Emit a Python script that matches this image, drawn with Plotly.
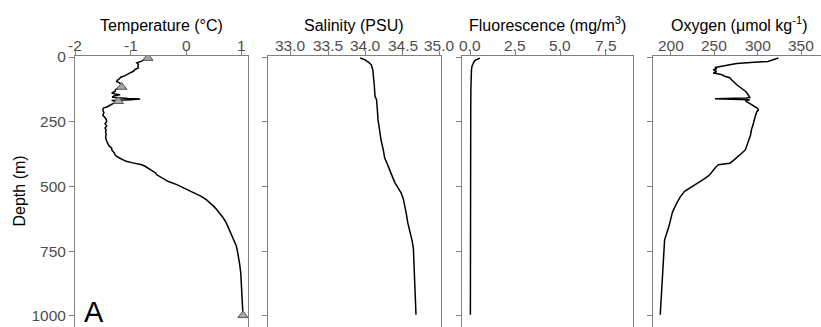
import plotly.graph_objects as go

# ---------------- data ----------------
temp_depth = [4, 10, 16, 22, 28, 35, 42, 48, 55, 62, 68, 72, 78, 84, 90, 95, 100, 107, 113, 120,
              126, 133, 139, 143, 146, 150, 155, 160, 162, 165, 168, 172, 178, 185, 193, 197, 205,
              215, 225, 232, 240, 249, 258, 266, 274, 281, 290, 300, 310, 320, 330, 339, 347, 352,
              358, 365, 372, 378, 384, 390, 396, 403, 408, 412, 416, 422, 430, 440, 448, 455, 464,
              472, 481, 493, 503, 513, 525, 538, 551, 565, 578, 590, 605, 620, 641, 667, 693, 706,
              730, 750, 770, 800, 835, 870, 910, 950, 998]
temp_vals = [-0.72, -0.76, -0.80, -0.89, -0.86, -0.87, -0.86, -0.92, -0.95, -1.02, -1.06, -1.10,
             -1.18, -1.20, -1.24, -1.25, -1.20, -1.16, -1.18, -1.22, -1.27, -1.28, -1.34, -1.28,
             -1.19, -1.30, -1.33, -1.05, -0.83, -1.00, -1.34, -1.25, -1.30, -1.38, -1.43, -1.49,
             -1.50, -1.48, -1.50, -1.47, -1.44, -1.43, -1.46, -1.43, -1.46, -1.44, -1.45, -1.44,
             -1.45, -1.44, -1.42, -1.40, -1.37, -1.34, -1.34, -1.31, -1.29, -1.28, -1.25, -1.20,
             -1.15, -1.08, -0.98, -0.88, -0.80, -0.74, -0.68, -0.62, -0.55, -0.53, -0.46, -0.40,
             -0.32, -0.17, -0.07, 0.05, 0.17, 0.27, 0.36, 0.44, 0.50, 0.55, 0.61, 0.66, 0.72,
             0.77, 0.83, 0.85, 0.90, 0.92, 0.94, 0.96, 0.98, 0.99, 1.00, 1.01, 1.02]

marker_depth = [4, 116, 171, 998]
marker_temp = [-0.69, -1.16, -1.22, 1.02]

sal_depth = [4, 6, 10, 20, 30, 50, 75, 110, 152, 165, 200, 242, 280, 320, 358, 390, 410, 435,
             460, 487, 505, 525, 548, 571, 605, 641, 675, 712, 740, 770, 820, 873, 930, 996]
sal_vals = [33.93, 33.96, 33.99, 34.04, 34.08, 34.10, 34.11, 34.12, 34.13, 34.15, 34.16, 34.17,
            34.19, 34.21, 34.24, 34.26, 34.29, 34.33, 34.36, 34.40, 34.44, 34.48, 34.51, 34.53,
            34.55, 34.57, 34.60, 34.63, 34.645, 34.65, 34.66, 34.665, 34.67, 34.68]

fl_depth = [4, 6, 8, 12, 18, 25, 35, 50, 75, 120, 200, 400, 600, 800, 996]
fl_vals = [0.55, 0.45, 0.38, 0.30, 0.22, 0.16, 0.11, 0.08, 0.06, 0.05, 0.04, 0.03, 0.03, 0.02, 0.02]

ox_depth = [4, 6, 10, 17, 19, 21, 25, 30, 33, 36, 40, 45, 49, 53, 56, 60, 62, 65, 68, 74, 80, 88,
            95, 100, 107, 115, 120, 126, 132, 140, 146, 152, 156, 158, 160, 161, 163, 165, 167,
            169, 175, 182, 191, 198, 204, 212, 222, 230, 245, 260, 280, 300, 320, 340, 358, 368,
            377, 390, 400, 410, 416, 425, 440, 455, 468, 481, 500, 519, 540, 564, 600, 654, 706,
            760, 809, 900, 996]
ox_vals = [324, 322, 318, 312, 300, 287, 276, 268, 262, 255, 251, 253, 249, 251, 253, 250, 249,
           254, 259, 262, 268, 270, 273, 274, 276, 279, 282, 284, 286, 288, 289, 290, 291, 287,
           268, 251, 270, 291, 288, 286, 289, 293, 297, 300, 301, 299, 298, 297, 296, 295, 293,
           292, 290, 288, 286, 283, 280, 276, 272, 268, 255, 252, 249, 245, 240, 234, 226, 216,
           211, 207, 202, 198, 193, 192, 191, 189, 188]

x_titles = ["Temperature (°C)", "Salinity (PSU)", "Fluorescence (mg/m<sup>3</sup>)",
            "Oxygen (μmol kg<sup>-1</sup>)"]
x_ticks = [[-2, -1, 0, 1], [33.0, 33.5, 34.0, 34.5, 35.0], [0.0, 2.5, 5.0, 7.5], [200, 250, 300, 350]]
x_ticktext = [["-2", "-1", "0", "1"], ["33.0", "33.5", "34.0", "34.5", "35.0"],
              ["0.0", "2.5", "5.0", "7.5"], ["200", "250", "300", "350"]]
y_ticks = [0, 250, 500, 750, 1000]
panel_label = "A"

# ---------------- layout geometry ----------------
W, H = 821, 327
ML, MT = 75, 56
PW = W - ML
PH = H - MT
panels_px = [(75, 248), (267.7, 440.7), (461.7, 633.3), (653.3, 821)]
x_ranges = [[-2.0, 1.11], [32.688, 35.012], [-0.46, 9.03], [180.0, 373.0]]
y_range = [1043, -4]

FONT = "Liberation Sans, Arial, sans-serif"
GREY = "#7f7f7f"
TICKCOL = "#4d4d4d"
TICKSIZE = 15.5

fig = go.Figure()

line_style = dict(color="black", width=1.5)
fig.add_trace(go.Scatter(x=temp_vals, y=temp_depth, mode="lines", line=line_style,
                         xaxis="x", yaxis="y", showlegend=False))
fig.add_trace(go.Scatter(x=marker_temp, y=marker_depth, mode="markers",
                         marker=dict(symbol="triangle-up", size=9, color="#a6a6a6",
                                     line=dict(color="#555555", width=1)),
                         xaxis="x", yaxis="y", showlegend=False))
fig.add_trace(go.Scatter(x=sal_vals, y=sal_depth, mode="lines", line=line_style,
                         xaxis="x2", yaxis="y2", showlegend=False))
fig.add_trace(go.Scatter(x=fl_vals, y=fl_depth, mode="lines", line=line_style,
                         xaxis="x3", yaxis="y3", showlegend=False))
fig.add_trace(go.Scatter(x=ox_vals, y=ox_depth, mode="lines", line=line_style,
                         xaxis="x4", yaxis="y4", showlegend=False))

layout = dict(width=W, height=H, margin=dict(l=ML, r=0, t=MT, b=0, pad=0),
              plot_bgcolor="white", paper_bgcolor="white",
              font=dict(family=FONT, color="black"))
annotations = []
for i in range(4):
    sfx = "" if i == 0 else str(i + 1)
    x0, x1 = panels_px[i]
    dom = [(x0 - ML) / PW, min(1.0, (x1 - ML) / PW)]
    layout["xaxis" + sfx] = dict(
        domain=dom, range=x_ranges[i], side="top", anchor="y" + sfx,
        tickvals=x_ticks[i], ticks="outside", ticklen=4,
        tickcolor=GREY, tickwidth=1, showline=True, linecolor=GREY, linewidth=1,
        mirror=False, showgrid=False, zeroline=False, showticklabels=False)
    layout["yaxis" + sfx] = dict(
        domain=[0, 1], range=y_range, anchor="x" + sfx,
        tickvals=y_ticks, ticks="outside", ticklen=5, tickcolor=GREY, tickwidth=1,
        showticklabels=(i == 0), showline=True, linecolor=GREY, linewidth=1,
        mirror=(i < 3), showgrid=False, zeroline=False,
        tickfont=dict(family=FONT, size=TICKSIZE, color=TICKCOL))
    if i > 0:
        layout["yaxis" + sfx]["matches"] = "y"
    # tick labels of the top axis
    for v, t in zip(x_ticks[i], x_ticktext[i]):
        annotations.append(dict(
            text=t, xref="x" + sfx, yref="paper", x=v, y=1, xanchor="center",
            yanchor="bottom", yshift=0, showarrow=False,
            font=dict(family=FONT, size=TICKSIZE, color=TICKCOL)))
    cx = (x0 + x1) / 2 if i < 3 else (653.3 + 826) / 2
    annotations.append(dict(
        text=x_titles[i], xref="paper", yref="paper",
        x=(cx - ML) / PW, y=1 + (MT - 36) / PH, xanchor="center", yanchor="bottom",
        showarrow=False, font=dict(family=FONT, size=16, color="black")))

annotations.append(dict(text="Depth (m)", xref="paper", yref="paper",
                        x=(19 - ML) / PW, y=0.5, textangle=-90, showarrow=False,
                        xanchor="center", yanchor="middle",
                        font=dict(family=FONT, size=16, color="black")))
annotations.append(dict(text=panel_label, xref="x", yref="y", x=-1.66, y=984,
                        showarrow=False, xanchor="center", yanchor="middle",
                        font=dict(family=FONT, size=29, color="black")))
layout["annotations"] = annotations
fig.update_layout(**layout)

fig.write_html("out.html")
